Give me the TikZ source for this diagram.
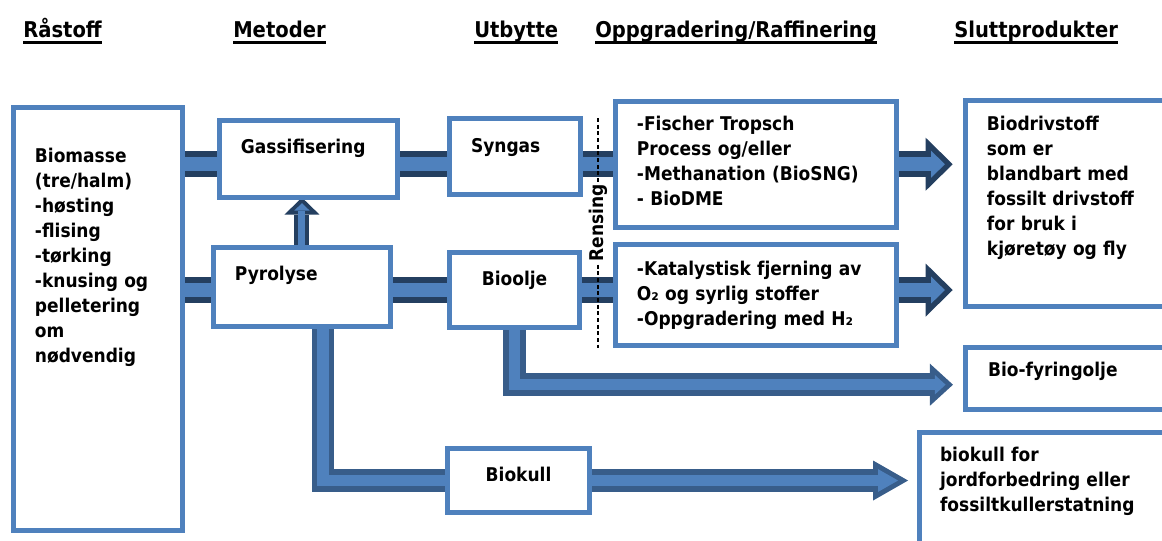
\documentclass[tikz,border=0pt]{standalone}
\usepackage{fontspec}
\newfontfamily\dvfont{DejaVu Sans Condensed Bold}
\usepackage{tikz}
\usetikzlibrary{arrows.meta,calc,backgrounds}
\definecolor{boxblue}{HTML}{4F81BD}
\definecolor{navy}{HTML}{243F60}
\definecolor{steel}{HTML}{385D8A}
\newcommand{\bodyfont}{\dvfont\fontsize{14.2pt}{18.75pt}\selectfont}
\newcommand{\headfont}{\dvfont\fontsize{16.3pt}{20pt}\selectfont}
\newcommand{\hdline}[1]{\setbox0=\hbox{#1}\rlap{\rule[-5.6pt]{\wd0}{2.4pt}}\box0}
\hyphenpenalty=10000

\begin{document}
\begin{tikzpicture}[x=0.75pt, y=-0.75pt,
    box/.style={draw=boxblue, line width=3.75pt, fill=white, outer sep=0pt, inner ysep=0pt, anchor=north west, align=left, font=\bodyfont},
    head/.style={anchor=base west, inner sep=0pt, font=\headfont},
    band/.style={draw=navy, line width=19.5pt, postaction={draw=boxblue, line width=10.5pt}},
    lband/.style={draw=steel, line width=16.9pt, line join=miter, postaction={draw=boxblue, line width=8.6pt}},
    fuelarrow/.style={draw=navy, line width=19.5pt, -{Triangle[length=20.25pt, width=39.75pt, line width=0pt]}, shorten >=9.6pt,
        postaction={draw=boxblue, line width=10.5pt, -{Triangle[length=10.2pt, width=20.1pt, line width=0pt]}, shorten >=15.5pt}},
    oilarrow/.style={draw=steel, line width=16.9pt, line join=miter, -{Triangle[length=17.25pt, width=31.5pt, line width=0pt]}, shorten >=9.4pt,
        postaction={draw=boxblue, line width=8.6pt, -{Triangle[length=7.95pt, width=14.5pt, line width=0pt]}, shorten >=14.95pt}},
    coalarrow/.style={draw=steel, line width=16.9pt, -{Triangle[length=26.25pt, width=30pt, line width=0pt]}, shorten >=8.6pt,
        postaction={draw=boxblue, line width=8.6pt, -{Triangle[length=15pt, width=17.1pt, line width=0pt]}, shorten >=16.1pt}},
    uparrow/.style={draw=navy, line width=11.25pt, -{Triangle[length=12.75pt, width=26.25pt, line width=0pt]},
        postaction={draw=boxblue, line width=5.25pt, -{Triangle[length=5.55pt, width=11.5pt, line width=0pt]}, shorten >=4.2pt}}]
    \useasboundingbox (0,0) rectangle (1162,540);
    \clip (0,0) rectangle (1162,540);

    % column heads
    \node [head] (hraw) at (23,37) {\hdline{Råstoff}};
    \node [head] (hmet) at (233,37) {\hdline{Metoder}};
    \node [head] (hout) at (474,37) {\hdline{Utbytte}};
    \node [head] (hupg) at (595,37) {\hdline{Oppgradering/Raffinering}};
    \node [head] (hend) at (954,37) {\hdline{Sluttprodukter}};

    % raw material
    \node [box, inner xsep=16.1pt, text width=94.5pt, text height=40.9pt, text depth=276.4pt] (bio) at (13.5,107.5)
        {Biomasse\\(tre/halm)\\-høsting\\-flising\\-tørking\\-knusing og\\pelletering\\om\\nødvendig};

    % methods
    \node [box, inner xsep=16.1pt, text width=101.3pt, text height=24.4pt, text depth=33.4pt] (gas) at (219.5,120.5) {Gassifisering};
    \node [box, inner xsep=16.1pt, text width=100.5pt, text height=25.1pt, text depth=34.1pt] (pyro) at (213.5,247.5) {Pyrolyse};

    % yield
    \node [box, inner xsep=16.5pt, text width=65.6pt, text height=25.5pt, text depth=31.9pt] (syn) at (449,118) {Syngas};
    \node [box, align=center, inner xsep=8pt, text width=81.5pt, text height=24.4pt, text depth=31.9pt] (oil) at (449.5,252.5) {Bioolje};
    \node [box, align=center, inner xsep=8pt, text width=90.5pt, text height=24.4pt, text depth=23.6pt] (coal) at (447.5,448.5) {Biokull};

    % upgrading
    \node [box, inner xsep=16.1pt, text width=178.5pt, text height=21.75pt, text depth=73.1pt] (ft) at (615.5,101)
        {-Fischer Tropsch\\Process og/eller\\-Methanation (BioSNG)\\- BioDME};
    \node [box, inner xsep=16.1pt, text width=178.5pt, text height=23.25pt, text depth=52.9pt] (cat) at (615.5,244)
        {-Katalystisk fjerning av\\O₂ og syrlig stoffer\\-Oppgradering med H₂};

    % end products
    \node [box, inner xsep=16.1pt, text width=132.4pt, text height=22.5pt, text depth=132pt] (fuel) at (965.5,100)
        {Biodrivstoff\\som er\\blandbart med\\fossilt drivstoff\\for bruk i\\kjøretøy og fly};
    \node [box, inner xsep=16.9pt, text width=130.9pt, text height=22.1pt, text depth=24.4pt] (heat) at (965.5,347.5) {Bio-fyringolje};
    \node [box, inner xsep=15.4pt, text width=168.4pt, text height=22.1pt, text depth=73.5pt] (char) at (919.5,432.5)
        {biokull for\\jordforbedring eller\\fossiltkullerstatning};

    % cleaning
    \draw [line width=1.2pt, dash pattern=on 3pt off 2pt] (598,118) -- (598,348);
    \node [rotate=90, fill=white, inner sep=1pt, font=\bodyfont] (clean) at (598,223) {Rensing};

    \coordinate (pyrodown) at ($(pyro.south west)!0.62!(pyro.south east)$);
    \coordinate (heatin) at ($(heat.north west)!0.6!(heat.south west)$);

    \begin{scope}[on background layer]
        \draw [band] (bio.east |- ft.west) -- (gas.west |- ft.west);
        \draw [band] (gas.east |- ft.west) -- (syn.west |- ft.west);
        \draw [band] (syn.east |- ft.west) -- (ft.west);
        \draw [band] (bio.east |- oil.west) -- (pyro.west |- oil.west);
        \draw [band] (pyro.east |- oil.west) -- (oil.west);
        \draw [band] (oil.east) -- (cat.west |- oil.west);
        \draw [fuelarrow] (ft.east) -- (fuel.west |- ft.east);
        \draw [fuelarrow] (cat.east |- oil.east) -- (fuel.west |- oil.east);
        \draw [uparrow] (pyro.north) -- (pyro.north |- gas.south);
        \draw [lband] (pyrodown) |- (coal.west);
        \draw [coalarrow] (coal.east) -- (char.west |- coal.east);
        \draw [oilarrow] (oil.south) |- (heatin);
    \end{scope}
\end{tikzpicture}
\end{document}
